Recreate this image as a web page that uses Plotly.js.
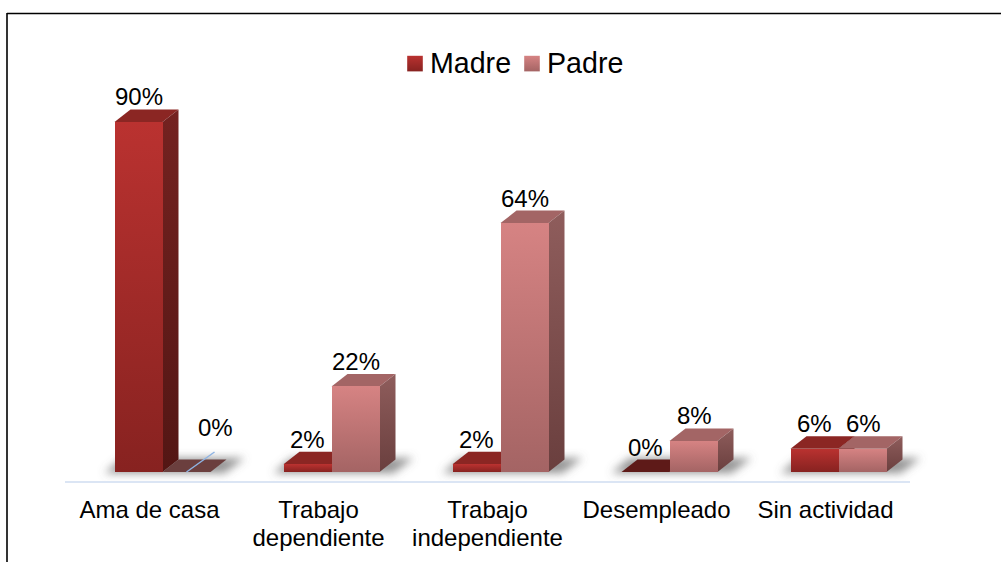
<!DOCTYPE html>
<html><head><meta charset="utf-8">
<script src="https://cdn.plot.ly/plotly-3.0.1.min.js"></script>
<style>html,body{margin:0;padding:0;background:#fff;overflow:hidden}</style>
</head><body><div id="chart" style="width:1001px;height:562px"></div>
<script>
const categories = ['Ama de casa', 'Trabajo<br>dependiente', 'Trabajo<br>independiente', 'Desempleado', 'Sin actividad'];
const madre = [90, 2, 2, 0, 6];
const padre = [0, 22, 64, 8, 6];

// plot-area geometry in pixels
const L = 65, R = 910, T = 14, B = 481, W = 1001, H = 562;
const pxX = 169, pxY = 3.889;            // pixels per category / per percent
const depthX = 16 / pxX, depthY = 12.5 / pxY;
const barW = 48 / pxX;
const offM = -35 / pxX, offP = 13 / pxX;  // left edges relative to the tick

const FACE = {
  mTop: '#8b2623', mSide: '#6e1f1c', mZero: '#5e1a18',
  pTop: '#a36565', pSide: '#845655', pZero: '#6b3f3e',
  shadow: '#6a6a6a', leader: '#8fb4e3'
};
const poly = (pts, fill, extra) => Object.assign({
  type: 'path', xref: 'x', yref: 'y', layer: 'below', fillcolor: fill,
  line: {width: 0},
  path: 'M' + pts.map(p => p[0] + ',' + p[1]).join('L') + 'Z'
}, extra || {});

const shapes = [];
// floor shadows
categories.forEach((c, i) => {
  const a = i + offM, b = i + offP + barW;
  shapes.push(poly([[a - 10 / pxX, -0.3], [a + 8 / pxX, depthY + 0.4], [b + 34 / pxX, depthY + 0.4], [b + 14 / pxX, -0.3]], FACE.shadow));
});
function faces(i, v, off, top, side, zero) {
  const a = i + off, b = a + barW;
  if (v === 0) {
    shapes.push(poly([[a, 0], [a + depthX, depthY], [b + depthX, depthY], [b, 0]], zero));
    return;
  }
  shapes.push(poly([[a, v], [a + depthX, v + depthY], [b + depthX, v + depthY], [b, v]], top));
  shapes.push(poly([[b, 0], [b + depthX, depthY], [b + depthX, v + depthY], [b, v]], side));
}
categories.forEach((c, i) => faces(i, madre[i], offM, FACE.mTop, FACE.mSide, FACE.mZero));
categories.forEach((c, i) => faces(i, padre[i], offP, FACE.pTop, FACE.pSide, FACE.pZero));

// outer frame: open at the right and at the bottom
const px = x => (x - L) / (R - L), py = y => (B - y) / (B - T);
shapes.push({type: 'line', xref: 'paper', yref: 'paper', x0: px(7), x1: px(W), y0: py(13.5), y1: py(13.5), line: {color: '#000', width: 1.6}, layer: 'above'});
shapes.push({type: 'line', xref: 'paper', yref: 'paper', x0: px(7), x1: px(7), y0: py(13), y1: py(H), line: {color: '#000', width: 1.6}, layer: 'above'});

const centerM = offM + barW / 2, centerP = offP + barW / 2;
// leader line of the displaced 0% label
padre.forEach((v, i) => {
  if (v === 0 && madre[i] > 50) {
    shapes.push({type: 'line', xref: 'x', yref: 'y', x0: i + centerP, y0: 0, x1: i + centerP + 28 / pxX, y1: 20 / pxY, line: {color: FACE.leader, width: 1.5}, layer: 'above'});
  }
});

const annotations = [];
const labelFont = {family: 'Liberation Sans, Arial, sans-serif', size: 24, color: '#000'};
categories.forEach((c, i) => {
  annotations.push({x: i + centerM, y: madre[i], text: madre[i] + '%', showarrow: false, yshift: 25, font: labelFont, yanchor: 'middle'});
  const displaced = padre[i] === 0 && madre[i] > 50;
  annotations.push({x: i + centerP, y: padre[i], text: padre[i] + '%', showarrow: false, yshift: displaced ? 45 : 25, xshift: displaced ? 29 : 0.5, font: labelFont, yanchor: 'middle'});
});

const ticks = categories.map((c, i) => i);
const traces = [
  {type: 'bar', name: 'Madre', x: ticks, y: madre, width: barW, offset: offM, marker: {color: '#a52b29', line: {width: 0}}, hoverinfo: 'skip'},
  {type: 'bar', name: 'Padre', x: ticks, y: padre, width: barW, offset: offP, marker: {color: '#c27574', line: {width: 0}}, hoverinfo: 'skip'}
];
const layout = {
  width: W, height: H, autosize: false,
  margin: {l: L, r: W - R, t: T, b: H - B, pad: 0},
  paper_bgcolor: '#fff', plot_bgcolor: 'rgba(0,0,0,0)',
  barmode: 'overlay', bargap: 0,
  font: {family: 'Liberation Sans, Arial, sans-serif', color: '#000'},
  xaxis: {range: [-0.5, 4.5], tickvals: ticks, ticktext: categories, showgrid: false, zeroline: false, showline: true, linecolor: '#dbe5f4', linewidth: 2, ticks: 'outside', ticklen: 6, tickcolor: 'rgba(0,0,0,0)', tickfont: {size: 24, family: 'Liberation Sans, Arial, sans-serif', color: '#000'}, tickangle: 0},
  yaxis: {range: [-9 / pxY, 458 / pxY], visible: false, fixedrange: true},
  showlegend: true,
  legend: {orientation: 'h', x: px(390), xanchor: 'left', y: py(37), yanchor: 'top', font: {size: 28.6, family: 'Liberation Sans, Arial, sans-serif', color: '#000'}, entrywidth: 72, entrywidthmode: 'pixels', bgcolor: 'rgba(0,0,0,0)', borderwidth: 0, traceorder: 'normal'},
  shapes, annotations
};

function addGradient(defs, id, top, bottom) {
  const ns = 'http://www.w3.org/2000/svg';
  const g = document.createElementNS(ns, 'linearGradient');
  g.setAttribute('id', id); g.setAttribute('x1', '0'); g.setAttribute('y1', '0'); g.setAttribute('x2', '0'); g.setAttribute('y2', '1');
  [[0, top], [1, bottom]].forEach(s => {
    const st = document.createElementNS(ns, 'stop');
    st.setAttribute('offset', s[0]); st.setAttribute('stop-color', s[1]);
    g.appendChild(st);
  });
  defs.appendChild(g);
}
const hexRgb = h => 'rgb(' + [1, 3, 5].map(k => parseInt(h.substr(k, 2), 16)).join(', ') + ')';

Plotly.newPlot('chart', traces, layout, {displayModeBar: false, staticPlot: true}).then(gd => {
  const svg = gd.querySelector('.main-svg');
  const defs = svg.querySelector('defs');
  const ns = 'http://www.w3.org/2000/svg';
  addGradient(defs, 'gM', '#ba3230', '#872220');
  addGradient(defs, 'gP', '#d68383', '#a46464');
  addGradient(defs, 'gMS', '#742220', '#531614');
  addGradient(defs, 'gPS', '#8f5d5c', '#6a3f3e');
  const f = document.createElementNS(ns, 'filter');
  f.setAttribute('id', 'blur3'); f.setAttribute('x', '-20%'); f.setAttribute('y', '-60%'); f.setAttribute('width', '140%'); f.setAttribute('height', '220%');
  const b = document.createElementNS(ns, 'feGaussianBlur');
  b.setAttribute('stdDeviation', '4');
  f.appendChild(b); defs.appendChild(f);

  gd.querySelectorAll('.barlayer .trace').forEach((t, k) => {
    t.querySelectorAll('path').forEach(p => { p.style.fill = 'url(#' + (k ? 'gP' : 'gM') + ')'; });
  });
  gd.querySelectorAll('.legend .traces').forEach((t, k) => {
    t.querySelectorAll('.legendpoints path').forEach(p => {
      p.style.fill = 'url(#' + (k ? 'gP' : 'gM') + ')';
      p.setAttribute('transform', 'translate(25,1.5) scale(1.3)');
    });
  });
  gd.querySelectorAll('.shapelayer path').forEach(p => {
    const c = p.style.fill;
    if (c === hexRgb(FACE.mSide)) p.style.fill = 'url(#gMS)';
    else if (c === hexRgb(FACE.pSide)) p.style.fill = 'url(#gPS)';
    else if (c === hexRgb(FACE.shadow)) {
      p.style.filter = 'url(#blur3)'; p.style.fillOpacity = 0.7;
      for (let n = p; n && n !== svg; n = n.parentNode) {
        n.removeAttribute('clip-path');
        n.style.clipPath = 'none';
      }
    }
  });
  gd.querySelectorAll('.xtick text tspan.line').forEach(t => {
    if (parseFloat(t.getAttribute('dy')) > 0) t.setAttribute('dy', '1.17em');
  });
});
</script></body></html>
